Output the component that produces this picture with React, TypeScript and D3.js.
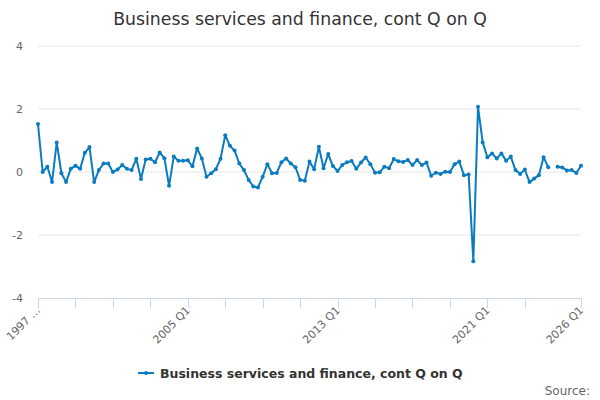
import React from "react";
import * as d3 from "d3";

const seriesName = "Business services and finance, cont Q on Q";
const titleText = "Business services and finance, cont Q on Q";
const startYear = 1997;
const values: (number | null)[] = [
  1.52, 0.0, 0.17, -0.32, 0.94, -0.04, -0.32, 0.1, 0.2, 0.1,
  0.61, 0.79, -0.32, 0.06, 0.27, 0.27, 0.0, 0.08, 0.22, 0.1,
  0.06, 0.42, -0.22, 0.4, 0.42, 0.31, 0.62, 0.44, -0.44, 0.49,
  0.36, 0.36, 0.37, 0.18, 0.75, 0.43, -0.15, -0.04, 0.09, 0.42,
  1.17, 0.83, 0.68, 0.27, 0.06, -0.25, -0.46, -0.49, -0.15, 0.25,
  -0.04, -0.03, 0.31, 0.43, 0.27, 0.15, -0.25, -0.28, 0.33, 0.09,
  0.8, 0.12, 0.57, 0.19, 0.03, 0.22, 0.31, 0.35, 0.1, 0.3,
  0.46, 0.25, -0.02, -0.01, 0.17, 0.12, 0.41, 0.34, 0.32, 0.38,
  0.22, 0.38, 0.22, 0.3, -0.12, -0.02, -0.06, 0.01, 0.0, 0.25,
  0.33, -0.1, -0.08, -2.83, 2.07, 0.94, 0.47, 0.59, 0.43, 0.59,
  0.36, 0.49, 0.06, -0.06, 0.08, -0.32, -0.21, -0.1, 0.47, 0.15,
  null, 0.17, 0.14, 0.05, 0.06, -0.03, 0.2,
];
const categories: string[] = values.map(
  (_, i) => `${startYear + Math.floor(i / 4)} Q${(i % 4) + 1}`
);
const yTicks = [-4, -2, 0, 2, 4];
const tickIndices = [0, 8, 16, 24, 32, 40, 48, 56, 64, 72, 80, 88, 96, 104, 116];
const labelIndices = [0, 32, 64, 96, 116];
const labelTexts: Record<number, string> = { 0: "1997 …" };

const W = 600;
const H = 400;
const FONT = "DejaVu Sans, Verdana, sans-serif";
const COLOR = "#0b7bc1";

export default function App() {
  const x = d3.scaleLinear().domain([0, values.length - 1]).range([38, 581]);
  const y = d3.scaleLinear().domain([-4, 4]).range([298, 46]);
  const line = d3
    .line<number | null>()
    .defined((d) => d !== null)
    .x((_, i) => x(i))
    .y((d) => y(d as number));

  return (
    <svg
      width={W}
      height={H}
      style={{ position: "absolute", left: 0, top: 0, background: "#fff" }}
      fontFamily={FONT}
    >
      <rect width={W} height={H} fill="#fff" />
      <text x={300} y={25} textAnchor="middle" fontSize={17.3} fill="#333">
        {titleText}
      </text>
      {yTicks.map((t) => (
        <g key={t}>
          {t !== -4 && (
            <line x1={38} x2={581} y1={y(t)} y2={y(t)} stroke="#e6e6e6" strokeWidth={1} />
          )}
          <text x={23} y={y(t) + 4} textAnchor="end" fontSize={11} fill="#666">
            {t}
          </text>
        </g>
      ))}
      <line x1={38} x2={581} y1={298.5} y2={298.5} stroke="#ccd6eb" strokeWidth={1} />
      {tickIndices.map((i) => (
        <line
          key={i}
          x1={Math.round(x(i)) + 0.5}
          x2={Math.round(x(i)) + 0.5}
          y1={298}
          y2={308}
          stroke="#ccd6eb"
          strokeWidth={1}
        />
      ))}
      {labelIndices.map((i) => (
        <text
          key={i}
          transform={`translate(${x(i) + 3},${311}) rotate(-45)`}
          textAnchor="end"
          fontSize={11}
          fill="#666"
        >
          {labelTexts[i] ?? categories[i]}
        </text>
      ))}
      <path d={line(values) || ""} fill="none" stroke={COLOR} strokeWidth={2} strokeLinejoin="round" />
      {values.map((v, i) =>
        v === null ? null : <circle key={i} cx={x(i)} cy={y(v)} r={2} fill={COLOR} />
      )}
      <g>
        <line x1={138} x2={154} y1={373} y2={373} stroke={COLOR} strokeWidth={2} />
        <circle cx={146} cy={373} r={2} fill={COLOR} />
        <text x={160} y={377.5} fontSize={12.5} fontWeight="bold" fill="#333">
          {seriesName}
        </text>
      </g>
      <text x={590} y={395} textAnchor="end" fontSize={12} fill="#666">
        Source:
      </text>
    </svg>
  );
}
